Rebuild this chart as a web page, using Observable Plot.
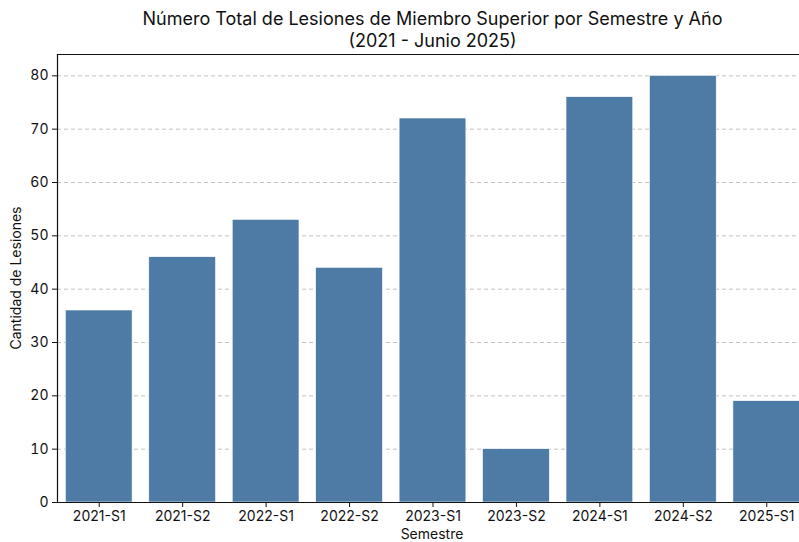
<!DOCTYPE html>
<html>
<head>
<meta charset="utf-8">
<script src="https://cdn.jsdelivr.net/npm/d3@7"></script>
<script src="https://cdn.jsdelivr.net/npm/@observablehq/plot@0.6"></script>
<style>
  html, body { margin: 0; background: #fff; overflow: hidden; font-family: Inter, "Noto Sans", sans-serif; }
  #wrap { width: 799px; height: 542px; overflow: hidden; position: relative; }
  #title { width: 751px; margin-left: 57px; padding-top: 8px; text-align: center; font-size: 18px; line-height: 22px; color: #111; height: 43px; }
  #chart { line-height: 0; }
</style>
</head>
<body>
<div id="wrap">
  <div id="title">Número Total de Lesiones de Miembro Superior por Semestre y Año<br>(2021 - Junio 2025)</div>
  <div id="chart"></div>
</div>
<script>
const semestres = ["2021-S1","2021-S2","2022-S1","2022-S2","2023-S1","2023-S2","2024-S1","2024-S2","2025-S1"];
const lesiones = [36, 46, 53, 44, 72, 10, 76, 80, 19];
const yTicks = [0, 10, 20, 30, 40, 50, 60, 70, 80];
const titleY = "Cantidad de Lesiones";
const titleX = "Semestre";

const data = semestres.map((s, i) => ({semestre: s, valor: lesiones[i]}));

const chart = Plot.plot({
  width: 799,
  height: 491,
  marginTop: 3,
  marginBottom: 40,
  marginLeft: 57,
  marginRight: 0,
  style: {fontFamily: "Inter, 'Noto Sans', sans-serif", fontSize: "14px", color: "#111", overflow: "hidden"},
  x: {domain: semestres, range: [57, 808], paddingInner: 0.2, paddingOuter: 0.1, round: false, label: null},
  y: {domain: [0, 84], label: null},
  marks: [
    Plot.gridY(yTicks, {stroke: "#bbb", strokeOpacity: 1, strokeDasharray: "4,3", strokeWidth: 0.9}),
    Plot.barY(data, {x: "semestre", y: "valor", fill: "#4e7ba6", stroke: "#fff", strokeWidth: 0.6}),
    Plot.axisX({tickSize: 5, tickPadding: 4, fontSize: 14, label: null, stroke: "#111"}),
    Plot.axisY(yTicks, {tickSize: 5, tickPadding: 4, fontSize: 14, label: null, stroke: "#111"}),
    Plot.frame({anchor: "left", stroke: "#111", strokeWidth: 1.2}),
    Plot.frame({anchor: "bottom", stroke: "#111", strokeWidth: 1.2}),
    Plot.frame({anchor: "top", stroke: "#111", strokeWidth: 1.2})
  ]
});
document.getElementById("chart").appendChild(chart);

// axis titles as SVG text
const svg = d3.select(chart);
svg.append("text")
  .attr("x", 432).attr("y", 488)
  .attr("text-anchor", "middle")
  .attr("font-size", 14).attr("fill", "#111")
  .text(titleX);
svg.append("text")
  .attr("transform", "translate(21,227) rotate(-90)")
  .attr("text-anchor", "middle")
  .attr("font-size", 14).attr("fill", "#111")
  .text(titleY);
</script>
</body>
</html>
